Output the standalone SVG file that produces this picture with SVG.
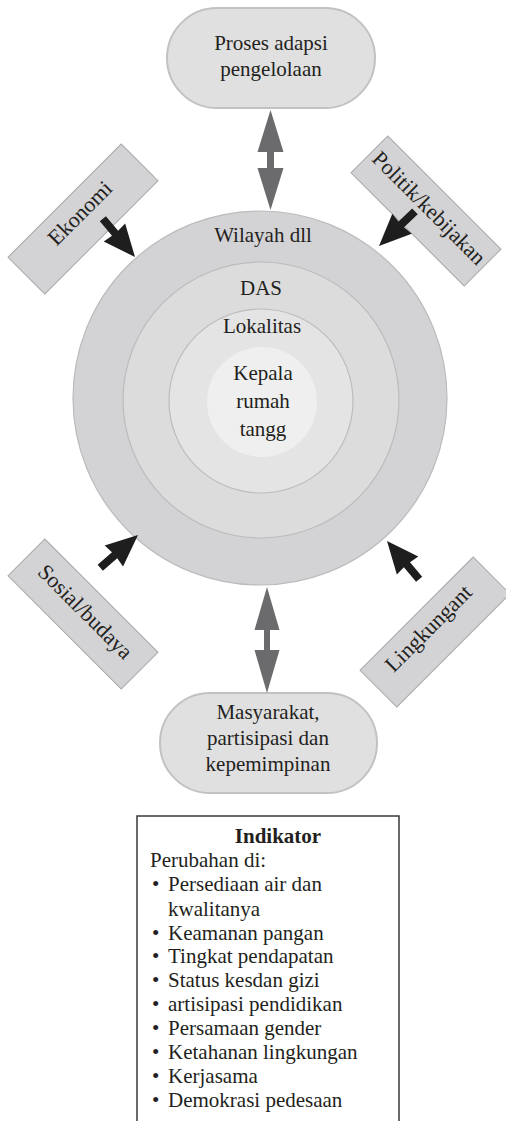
<svg xmlns="http://www.w3.org/2000/svg" width="506" height="1121" viewBox="0 0 506 1121" font-family="'Liberation Serif', 'DejaVu Serif', serif">
  <style>
    text { font-family: 'Liberation Serif', 'DejaVu Serif', serif; fill: #231f20; }
    .t21 { font-size: 21px; text-anchor: middle; }
    .t22 { font-size: 22px; text-anchor: middle; }
    .li { font-size: 21px; }
    .pill { fill: #e0e0e1; stroke: #c2c2c3; stroke-width: 2; }
    .tag { fill: #d3d3d5; stroke: #a9a9ab; stroke-width: 1; }
    .ring { stroke: #bcbcbe; stroke-width: 1.2; }
    .dbl { fill: #6b6b6d; }
    .push { fill: #1e1e1e; }
  </style>
  <defs>
    <!-- black push arrow, tip at origin pointing along +x -->
    <path id="push" d="M0,0 L-32,-14 L-31,-4 L-50,-4 L-50,4 L-31,4 L-32,14 Z"/>
  </defs>

  <!-- nested scale circles -->
  <g id="wilayah">
    <circle class="ring" cx="260" cy="398" r="187" fill="#d3d3d5"/>
    <text class="t21" x="263" y="242">Wilayah dll</text>
  </g>
  <g id="das">
    <circle class="ring" cx="261" cy="400" r="138" fill="#dcdcdd"/>
    <text class="t21" x="261" y="295">DAS</text>
  </g>
  <g id="lokalitas">
    <circle class="ring" cx="261" cy="401" r="92" fill="#e4e4e5"/>
    <text class="t21" x="262" y="333">Lokalitas</text>
  </g>
  <g id="kepala">
    <circle cx="262" cy="402" r="55" fill="#efefef"/>
    <text class="t21" x="263" y="380">Kepala</text>
    <text class="t21" x="263" y="408">rumah</text>
    <text class="t21" x="263" y="436">tangg</text>
  </g>

  <!-- rounded process nodes -->
  <g id="proses">
    <rect class="pill" x="167" y="8" width="208" height="100" rx="50"/>
    <text class="t21" x="271" y="50">Proses adapsi</text>
    <text class="t21" x="271" y="76">pengelolaan</text>
  </g>
  <g id="masyarakat">
    <rect class="pill" x="160" y="693" width="217" height="100" rx="50"/>
    <text class="t21" x="268" y="719">Masyarakat,</text>
    <text class="t21" x="268" y="745">partisipasi dan</text>
    <text class="t21" x="268" y="771">kepemimpinan</text>
  </g>

  <!-- diagonal factor tags -->
  <g id="ekonomi" transform="translate(83,219) rotate(-45)">
    <rect class="tag" x="-80" y="-26" width="160" height="52"/>
    <text class="t22" x="2" y="1">Ekonomi</text>
  </g>
  <g id="politik" transform="translate(426,211) rotate(45)">
    <rect class="tag" x="-80" y="-26" width="160" height="52"/>
    <text class="t22" x="0" y="3">Politik/kebijakan</text>
  </g>
  <g id="sosial" transform="translate(83,614) rotate(45)">
    <rect class="tag" x="-80" y="-26" width="160" height="52"/>
    <text class="t22" x="0" y="4">Sosial/budaya</text>
  </g>
  <g id="lingkungan" transform="translate(435,632) rotate(-45)">
    <rect class="tag" x="-80" y="-26" width="160" height="52"/>
    <text class="t22" x="-2" y="0">Lingkungant</text>
  </g>

  <!-- connectors -->
  <g id="connectors">
    <path class="dbl" d="M270.5,110 L283.5,152 L274,152 L274,168 L283.5,168 L270.5,210 L257.5,168 L267,168 L267,152 L257.5,152 Z"/>
    <path class="dbl" d="M267,587 L279.5,630 L270,630 L270,650 L279.5,650 L267,693 L254.5,650 L264,650 L264,630 L254.5,630 Z"/>
    <use href="#push" class="push" transform="translate(135,257) rotate(50)"/>
    <use href="#push" class="push" transform="translate(379,246) rotate(136)"/>
    <use href="#push" class="push" transform="translate(138,535) rotate(-41)"/>
    <use href="#push" class="push" transform="translate(387,541) rotate(-130)"/>
  </g>

  <!-- indicator panel -->
  <g id="indikator">
    <path d="M137,1121 V816 H399 V1121" fill="none" stroke="#3a3a3a" stroke-width="1.5"/>
    <text x="278" y="843" font-size="21" font-weight="bold" text-anchor="middle">Indikator</text>
    <text class="li" x="150" y="867">Perubahan di:</text>
    <text class="li" x="152" y="891">•</text><text class="li" x="168" y="891">Persediaan air dan</text>
    <text class="li" x="168" y="916">kwalitanya</text>
    <text class="li" x="152" y="940">•</text><text class="li" x="168" y="940">Keamanan pangan</text>
    <text class="li" x="152" y="963">•</text><text class="li" x="168" y="963">Tingkat pendapatan</text>
    <text class="li" x="152" y="987">•</text><text class="li" x="168" y="987">Status kesdan gizi</text>
    <text class="li" x="152" y="1011">•</text><text class="li" x="168" y="1011">artisipasi pendidikan</text>
    <text class="li" x="152" y="1035">•</text><text class="li" x="168" y="1035">Persamaan gender</text>
    <text class="li" x="152" y="1059">•</text><text class="li" x="168" y="1059">Ketahanan lingkungan</text>
    <text class="li" x="152" y="1083">•</text><text class="li" x="168" y="1083">Kerjasama</text>
    <text class="li" x="152" y="1107">•</text><text class="li" x="168" y="1107">Demokrasi pedesaan</text>
  </g>
</svg>
